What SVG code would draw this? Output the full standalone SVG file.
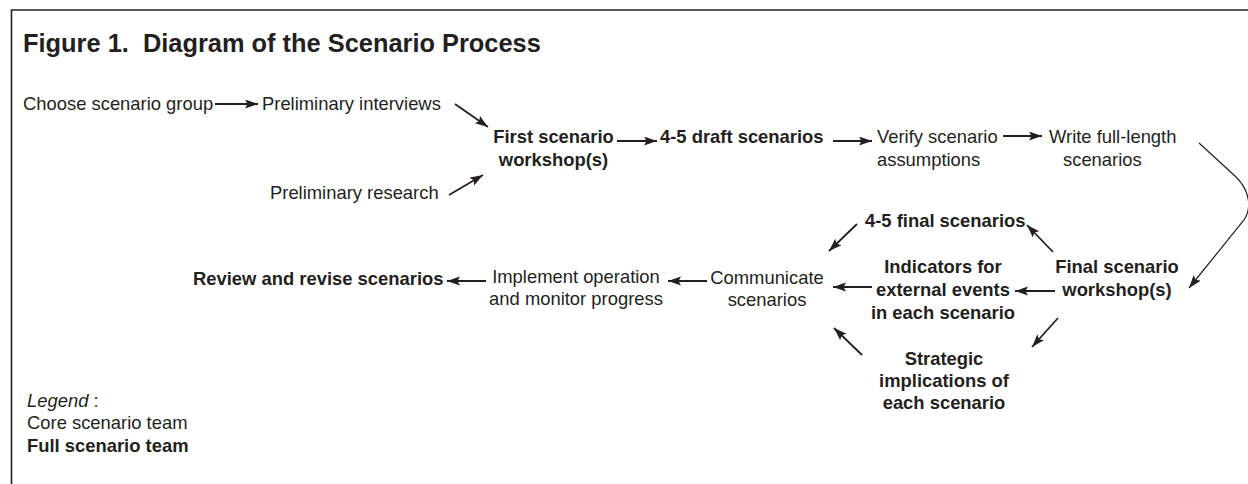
<svg xmlns="http://www.w3.org/2000/svg" width="1248" height="484" viewBox="0 0 1248 484">
  <style>
    text { font-family: "Liberation Sans", Arial, sans-serif; font-size: 18.4px; fill: #231f20; }
    .b { font-weight: bold; }
    .m { text-anchor: middle; }
    .title { font-size: 25.4px; font-weight: bold; }
    .arr { stroke: #231f20; stroke-width: 1.8; fill: none; marker-end: url(#head); }
    .thin { stroke: #231f20; stroke-width: 1.2; fill: none; marker-end: url(#head); }
  </style>
  <defs>
    <marker id="head" markerUnits="userSpaceOnUse" markerWidth="14" markerHeight="10" refX="13" refY="4.5" orient="auto">
      <path d="M0,0 L13,4.5 L0,9 L2.5,4.5 z" fill="#231f20"/>
    </marker>
  </defs>
  <rect width="1248" height="484" fill="#fff"/>

  <!-- frame: top and left rules -->
  <path d="M11.5,484 V10 H1248" stroke="#231f20" stroke-width="1.6" fill="none"/>

  <text class="title" x="23" y="52">Figure 1.&#160; Diagram of the Scenario Process</text>

  <g id="choose-group"><text x="23" y="110">Choose scenario group</text></g>
  <g id="prelim-interviews"><text x="262" y="110">Preliminary interviews</text></g>
  <g id="prelim-research"><text x="270" y="199">Preliminary research</text></g>
  <g id="first-workshop"><text class="b m"><tspan x="553.5" y="143">First scenario</tspan><tspan x="553.5" y="165.5">workshop(s)</tspan></text></g>
  <g id="draft-scenarios"><text class="b" x="660" y="143">4-5 draft scenarios</text></g>
  <g id="verify"><text><tspan x="877" y="143">Verify scenario</tspan><tspan x="877" y="166">assumptions</tspan></text></g>
  <g id="write-full"><text><tspan x="1049" y="143">Write full-length</tspan><tspan x="1063" y="166">scenarios</tspan></text></g>
  <g id="final-workshop"><text class="b m"><tspan x="1117" y="273">Final scenario</tspan><tspan x="1117" y="296">workshop(s)</tspan></text></g>
  <g id="final-scenarios"><text class="b" x="865" y="227">4-5 final scenarios</text></g>
  <g id="indicators"><text class="b m"><tspan x="943" y="273">Indicators for</tspan><tspan x="943" y="296">external events</tspan><tspan x="943" y="319">in each scenario</tspan></text></g>
  <g id="strategic"><text class="b m"><tspan x="944" y="365">Strategic</tspan><tspan x="944" y="387">implications of</tspan><tspan x="944" y="409">each scenario</tspan></text></g>
  <g id="communicate"><text class="m"><tspan x="767" y="284">Communicate</tspan><tspan x="767" y="306">scenarios</tspan></text></g>
  <g id="implement"><text class="m"><tspan x="576" y="283">Implement operation</tspan><tspan x="576" y="305">and monitor progress</tspan></text></g>
  <g id="review"><text class="b" x="193" y="285">Review and revise scenarios</text></g>

  <g id="legend">
    <text x="27" y="407"><tspan font-style="italic">Legend</tspan> :</text>
    <text x="27" y="429">Core scenario team</text>
    <text class="b" x="27" y="452">Full scenario team</text>
  </g>

  <g id="connectors">
    <line class="arr" x1="215" y1="104" x2="258" y2="104"/>
    <line class="arr" x1="455" y1="104" x2="488" y2="127"/>
    <line class="arr" x1="449" y1="195" x2="483" y2="175"/>
    <line class="arr" x1="617" y1="141" x2="657" y2="141"/>
    <line class="arr" x1="833" y1="141" x2="872" y2="141"/>
    <line class="arr" x1="1003" y1="136" x2="1042" y2="136"/>
    <path class="thin" d="M1199,143 L1235,176 C1250,190 1252,208 1244,220 L1189,288"/>
    <line class="arr" x1="1053" y1="252" x2="1027" y2="225"/>
    <line class="arr" x1="857" y1="224" x2="829" y2="251"/>
    <line class="arr" x1="1055" y1="291" x2="1015" y2="291"/>
    <line class="arr" x1="872" y1="287" x2="833" y2="287"/>
    <line class="arr" x1="1058" y1="318" x2="1032" y2="347"/>
    <line class="arr" x1="862" y1="355" x2="834" y2="328"/>
    <line class="arr" x1="707" y1="281" x2="668" y2="281"/>
    <line class="arr" x1="486" y1="281" x2="447" y2="281"/>
  </g>
</svg>
